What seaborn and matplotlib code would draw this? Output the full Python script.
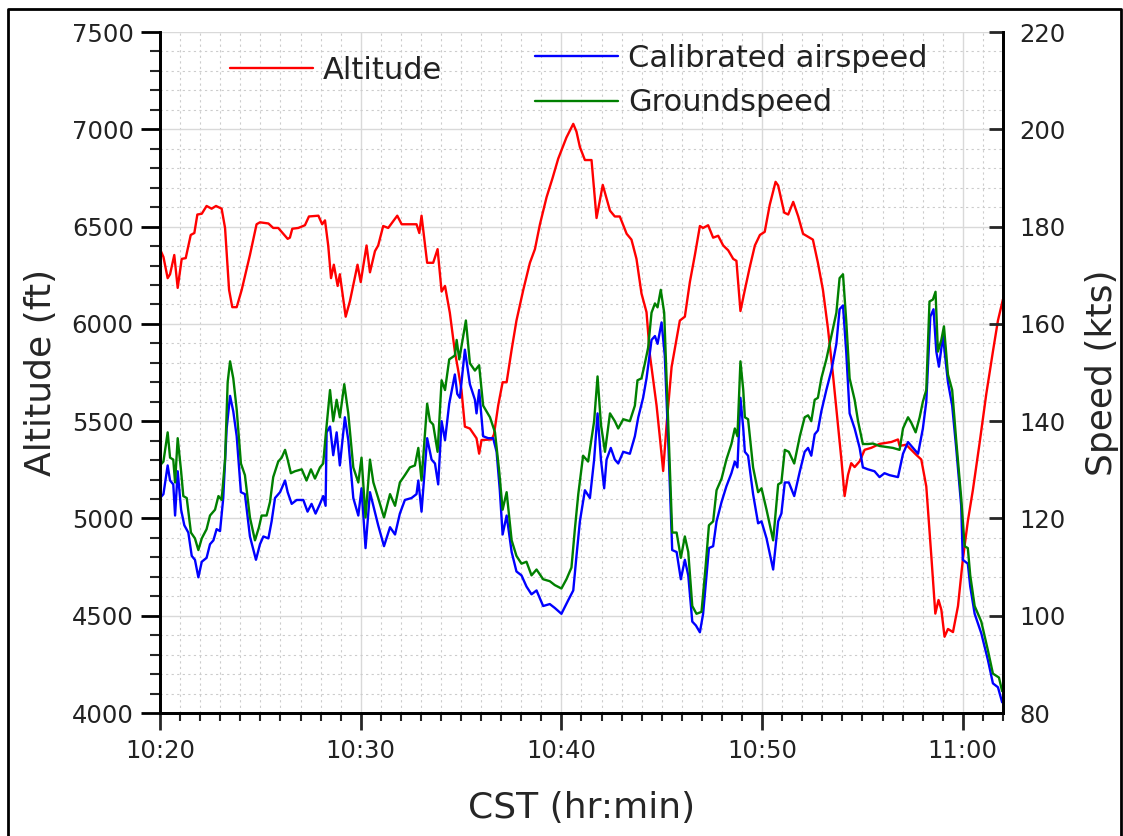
import matplotlib
matplotlib.use("Agg")
import matplotlib.pyplot as plt
import seaborn as sns
from matplotlib.lines import Line2D
from matplotlib.ticker import MultipleLocator, FixedLocator, FixedFormatter

# time in minutes after 10:20 CST
alt_t = [0, 0.17, 0.38, 0.5, 0.71, 0.88, 1.08, 1.28, 1.53, 1.71, 1.86, 2.08, 2.32, 2.57, 2.79,
         3.07, 3.24, 3.44, 3.6, 3.82, 4.07, 4.48, 4.81, 4.98, 5.4, 5.64, 5.89, 6.23, 6.36, 6.47,
         6.59, 6.89, 7.22, 7.42, 7.89, 8.08, 8.22, 8.38, 8.52, 8.66, 8.85, 8.96, 9.25, 9.46, 9.84,
         10.0, 10.29, 10.46, 10.71, 10.87, 11.12, 11.37, 11.82, 12.04, 12.78, 12.92, 13.03, 13.31,
         13.61, 13.83, 14.03, 14.2, 14.44, 14.69, 14.86, 15.02, 15.19, 15.44, 15.77, 15.9, 16.02,
         16.52, 16.64, 16.85, 17.07, 17.27, 17.52, 17.76, 18.1, 18.43, 18.68, 18.93, 19.26, 19.56,
         19.84, 20.25, 20.59, 20.75, 20.92, 21.17, 21.5, 21.75, 22.06, 22.42, 22.66, 22.91, 23.25,
         23.49, 23.74, 23.99, 24.24, 24.41, 24.74, 24.9, 25.07, 25.24, 25.49, 25.9, 26.15, 26.4,
         26.65, 26.9, 27.06, 27.31, 27.56, 27.81, 28.06, 28.31, 28.56, 28.72, 28.92, 29.14, 29.39,
         29.64, 29.89, 30.13, 30.38, 30.67, 30.8, 31.1, 31.3, 31.55, 31.8, 32.04, 32.53, 32.78,
         33.03, 33.28, 33.53, 33.78, 33.95, 34.11, 34.28, 34.44, 34.61, 34.86, 35.11, 35.44, 35.85,
         36.44, 36.77, 36.85, 37.18, 37.68, 37.93, 38.18, 38.43, 38.63, 38.79, 38.93, 39.09, 39.26,
         39.51, 39.76, 40.0, 40.25, 40.5, 40.83, 41.17, 41.5, 41.75, 42.0]
alt_ft = [6384, 6344, 6235, 6255, 6354, 6185, 6334, 6338, 6457, 6467, 6562, 6566, 6606, 6592, 6606,
          6592, 6493, 6175, 6086, 6086, 6175, 6354, 6512, 6522, 6516, 6493, 6493, 6453, 6437, 6443,
          6489, 6493, 6507, 6552, 6556, 6512, 6532, 6403, 6235, 6304, 6195, 6255, 6037, 6116, 6304,
          6215, 6403, 6265, 6374, 6403, 6503, 6493, 6556, 6512, 6512, 6467, 6556, 6314,
          6314, 6384, 6166, 6195, 6057, 5858, 5759, 5660, 5472, 5462, 5412, 5333, 5403,
          5406, 5432, 5581, 5700, 5700, 5868, 6017, 6175, 6314, 6384, 6512, 6651, 6750,
          6849, 6958, 7028, 6988, 6909, 6842, 6842, 6544, 6714, 6582, 6552, 6552, 6463,
          6433, 6334, 6156, 6060, 5839, 5581, 5422, 5244, 5482, 5779, 6017, 6037, 6215,
          6354, 6503, 6493, 6507, 6443, 6453, 6403, 6378, 6334, 6324, 6066, 6175, 6294,
          6403, 6457, 6473, 6612, 6730, 6711, 6572, 6562, 6627, 6552, 6463, 6433, 6314,
          6175, 5977, 5739, 5482, 5303, 5115, 5224, 5284, 5264, 5294, 5353, 5363, 5383,
          5393, 5406, 5373, 5379, 5327, 5303, 5165, 4808, 4511, 4581, 4531, 4392, 4432,
          4416, 4550, 4788, 4986, 5145, 5383, 5640, 5858, 6017, 6126]

cas_t = [0, 0.17, 0.38, 0.5, 0.66, 0.75, 0.88, 1.05, 1.21, 1.41, 1.58, 1.74, 1.91, 2.08, 2.32, 2.49,
         2.66, 2.82, 2.99, 3.15, 3.32, 3.49, 3.65, 3.82, 4.03, 4.23, 4.48, 4.78, 4.98, 5.15, 5.4,
         5.56, 5.73, 5.98, 6.23, 6.36, 6.56, 6.81, 7.14, 7.35, 7.55, 7.75, 7.97, 8.13, 8.25, 8.3,
         8.47, 8.63, 8.8, 8.96, 9.21, 9.38, 9.63, 9.88, 10.04, 10.24, 10.46, 10.63, 10.87, 11.16,
         11.46, 11.71, 11.95, 12.2, 12.53, 12.78, 12.87, 13.03, 13.31, 13.53, 13.7, 13.86, 14.03,
         14.2, 14.41, 14.69, 14.81, 14.94, 15.19, 15.44, 15.69, 15.77, 15.9, 16.1, 16.35, 16.6,
         16.77, 16.93, 17.07, 17.27, 17.52, 17.76, 18.01, 18.26, 18.51, 18.76, 19.09, 19.42, 19.67,
         20.0, 20.34, 20.59, 20.75, 20.92, 21.17, 21.42, 21.63, 21.8, 21.97, 22.13, 22.25, 22.46,
         22.66, 22.83, 23.08, 23.41, 23.66, 23.83, 24.07, 24.24, 24.49, 24.66, 24.79, 24.99, 25.15,
         25.32, 25.52, 25.74, 25.95, 26.15, 26.32, 26.52, 26.7, 26.9, 27.06, 27.18, 27.35, 27.56,
         27.73, 27.98, 28.22, 28.47, 28.64, 28.77, 28.92, 29.06, 29.14, 29.3, 29.55, 29.8, 29.97,
         30.22, 30.55, 30.8, 30.96, 31.13, 31.33, 31.6, 31.88, 32.12, 32.29, 32.45, 32.62, 32.78,
         32.95, 33.2, 33.45, 33.7, 33.86, 34.03, 34.19, 34.36, 34.61, 34.86, 35.02, 35.27, 35.6,
         35.85, 36.1, 36.35, 36.77, 37.02, 37.27, 37.52, 37.77, 38.01, 38.18, 38.38, 38.54, 38.68,
         38.81, 39.01, 39.26, 39.47, 39.67, 39.92, 40.0, 40.25, 40.37, 40.59, 40.92, 41.25, 41.5,
         41.75, 41.96]
cas_kts = [124.2, 125.0, 130.9, 127.8, 127.0, 120.6, 129.7, 121.8, 118.6, 117.1, 112.3, 111.5, 107.9,
           111.1, 111.9, 114.7, 115.5, 117.8, 117.4, 124.2, 138.5, 145.2, 142.0, 136.9, 125.4, 125.0,
           116.3, 111.5, 114.7, 116.3, 115.9, 119.4, 124.2, 125.4, 127.8, 125.4, 123.0, 123.8, 123.8,
           121.4, 123.0, 121.0, 123.0, 124.6, 122.6, 137.7, 138.9, 133.0, 137.7, 130.9, 140.8, 136.1,
           124.2, 120.6, 126.2, 113.9, 125.4, 122.6, 118.6, 114.3, 118.2, 116.7, 121.0, 123.8, 124.2,
           125.0, 127.8, 121.4, 136.5, 132.1, 131.3, 127.0, 140.0, 136.1, 143.6, 149.6, 145.6, 144.8,
           154.7, 147.6, 144.4, 141.6, 146.4, 136.9, 136.5, 136.5, 133.7, 125.8, 116.7, 120.6, 113.1,
           109.1, 108.3, 106.0, 104.4, 105.2, 102.0, 102.4, 101.6, 100.4, 103.2, 105.2, 112.3, 119.4,
           125.8, 124.2, 132.1, 141.6, 132.1, 126.2, 132.1, 134.5, 132.1, 131.3, 133.7, 133.3, 136.9,
           140.8, 144.8, 148.8, 156.7, 157.5, 155.9, 160.3, 153.5, 136.1, 113.5, 113.1, 107.5, 111.5,
           108.3, 98.8, 98.0, 96.6, 100.4, 106.0, 113.9, 114.3, 119.4, 123.4, 126.6, 129.3, 131.7,
           130.5, 144.8, 138.5, 133.7, 132.9, 125.0, 119.0, 119.4, 115.9, 109.5, 119.4, 121.0, 127.4,
           127.4, 124.6, 129.7, 133.7, 134.5, 132.9, 137.3, 138.1, 142.0, 146.4, 150.4, 155.9, 163.0,
           163.8, 154.3, 141.6, 138.5, 134.5, 130.5, 130.1, 129.7, 128.5, 129.3, 128.9, 128.5, 133.3,
           135.7, 134.5, 133.3, 138.5, 144.0, 161.5, 163.0, 154.3, 151.2, 157.5, 148.0, 143.2, 134.5,
           122.6, 111.5, 110.7, 106.0, 100.4, 96.4, 90.9, 86.1, 85.3, 82.2]

gs_t = [0, 0.17, 0.38, 0.5, 0.66, 0.75, 0.88, 1.05, 1.16, 1.33, 1.54, 1.74, 1.91, 2.08, 2.32, 2.49,
        2.74, 2.91, 3.07, 3.24, 3.37, 3.49, 3.65, 3.82, 4.03, 4.23, 4.48, 4.73, 4.93, 5.06, 5.31,
        5.48, 5.64, 5.89, 6.06, 6.23, 6.36, 6.52, 6.72, 7.06, 7.3, 7.52, 7.72, 7.97, 8.13, 8.25,
        8.47, 8.63, 8.8, 8.96, 9.18, 9.38, 9.63, 9.88, 10.04, 10.24, 10.46, 10.63, 10.87, 11.16,
        11.46, 11.71, 11.95, 12.2, 12.45, 12.7, 12.87, 13.03, 13.31, 13.45, 13.61, 13.83, 14.03,
        14.2, 14.41, 14.69, 14.78, 14.91, 15.24, 15.44, 15.69, 15.9, 16.1, 16.44, 16.69, 16.9,
        17.07, 17.27, 17.52, 17.76, 18.01, 18.26, 18.51, 18.76, 19.09, 19.42, 19.67, 20.0, 20.25,
        20.5, 20.67, 20.84, 21.08, 21.33, 21.63, 21.8, 21.97, 22.17, 22.42, 22.66, 22.83, 23.08,
        23.41, 23.66, 23.79, 23.99, 24.16, 24.32, 24.49, 24.66, 24.79, 24.95, 25.12, 25.32, 25.52,
        25.74, 25.95, 26.15, 26.32, 26.52, 26.73, 26.98, 27.18, 27.35, 27.56, 27.73, 27.98, 28.22,
        28.47, 28.64, 28.77, 28.92, 29.06, 29.14, 29.3, 29.55, 29.8, 29.97, 30.22, 30.55, 30.8,
        30.96, 31.13, 31.33, 31.6, 31.88, 32.12, 32.29, 32.45, 32.62, 32.78, 32.95, 33.2, 33.45,
        33.7, 33.86, 34.03, 34.19, 34.36, 34.61, 34.78, 35.02, 35.27, 35.52, 35.85, 36.19, 36.52,
        36.85, 37.02, 37.27, 37.43, 37.65, 37.85, 38.01, 38.18, 38.34, 38.51, 38.64, 38.76, 38.93,
        39.06, 39.26, 39.47, 39.67, 39.92, 40.09, 40.25, 40.37, 40.59, 40.92, 41.25, 41.5, 41.8,
        41.96]
gs_kts = [130.9, 131.7, 137.7, 132.5, 132.1, 127.4, 136.5, 129.7, 124.6, 124.2, 117.1, 115.9, 113.5,
          115.9, 117.8, 120.6, 121.8, 124.6, 123.8, 132.1, 148.0, 152.3, 148.8, 142.4, 131.3, 128.9,
          120.2, 115.5, 118.2, 120.6, 120.6, 123.4, 128.5, 131.7, 132.5, 134.1, 132.1, 129.3, 129.7,
          130.1, 127.8, 130.1, 128.2, 130.5, 131.3, 136.9, 146.4, 140.0, 144.4, 140.8, 147.6, 141.6,
          130.5, 127.4, 132.5, 120.2, 132.1, 127.4, 124.2, 120.2, 125.0, 122.6, 127.4, 128.9, 130.5,
          130.9, 134.5, 127.8, 143.6, 140.0, 139.3, 133.7, 148.4, 146.4, 152.7, 153.5, 156.7, 152.7,
          160.7, 151.9, 150.4, 151.5, 143.2, 140.8, 137.7, 129.7, 121.8, 125.4, 115.5, 112.3, 110.7,
          111.1, 108.3, 109.5, 107.5, 107.1, 106.3, 105.6, 107.5, 109.9, 117.8, 125.0, 132.9, 131.7,
          140.0, 149.2, 139.3, 133.7, 141.6, 140.0, 138.5, 140.4, 140.0, 143.2, 148.4, 148.8, 151.9,
          155.1, 162.3, 164.2, 163.4, 167.0, 162.3, 140.0, 117.1, 117.1, 111.9, 116.3, 113.1, 102.0,
          100.4, 100.8, 109.9, 118.6, 119.4, 125.8, 128.2, 132.1, 135.3, 138.5, 136.9, 152.3, 146.4,
          140.8, 140.4, 130.5, 125.4, 126.2, 121.8, 115.5, 127.0, 127.4, 134.1, 133.7, 131.3, 136.9,
          140.8, 141.2, 140.0, 144.4, 144.8, 148.8, 152.7, 157.5, 162.3, 169.4, 170.2, 160.7, 148.8,
          144.4, 140.0, 135.3, 135.3, 135.4, 134.9, 134.7, 134.5, 134.1, 138.5, 140.8, 139.7, 137.7,
          140.8, 144.0, 146.4, 164.6, 165.0, 166.6, 154.3, 156.7, 159.5, 149.6, 146.4, 136.1, 124.2,
          114.3, 113.9, 108.3, 102.0, 98.8, 92.9, 88.1, 87.3, 84.5]

tick_minutes = [0, 10, 20, 30, 40]
tick_labels = ["10:20", "10:30", "10:40", "10:50", "11:00"]

sns.set_style("white")
plt.rcParams["font.family"] = ["DejaVu Sans"]
plt.rcParams["text.color"] = "#222222"

fig = plt.figure(figsize=(11.23, 8.36), dpi=100)
ax = fig.add_axes([0.1425, 0.1471, 0.7506, 0.8146])
ax2 = ax.twinx()

sns.lineplot(x=alt_t, y=alt_ft, ax=ax, color="#ff0000", linewidth=1.7,
             estimator=None, sort=False, label="Altitude")
sns.lineplot(x=cas_t, y=cas_kts, ax=ax2, color="#0000ff", linewidth=1.7,
             estimator=None, sort=False, label="Calibrated airspeed")
sns.lineplot(x=gs_t, y=gs_kts, ax=ax2, color="#008000", linewidth=1.7,
             estimator=None, sort=False, label="Groundspeed")

ax.set_xlim(0, 42)
ax.set_ylim(4000, 7500)
ax2.set_ylim(80, 220)

ax.xaxis.set_major_locator(FixedLocator(tick_minutes))
ax.xaxis.set_major_formatter(FixedFormatter(tick_labels))
ax.xaxis.set_minor_locator(MultipleLocator(1))
ax.yaxis.set_major_locator(MultipleLocator(500))
ax.yaxis.set_minor_locator(MultipleLocator(100))
ax2.yaxis.set_major_locator(MultipleLocator(20))

# grid
ax.grid(which="major", color="#d9d9d9", linewidth=1, linestyle="-")
ax.grid(which="minor", color="#cccccc", linewidth=0.8, linestyle=(0, (2, 3)))
ax2.grid(False)
ax.set_axisbelow(True)

for a in (ax, ax2):
    a.spines["top"].set_visible(False)
    for s in ("left", "right", "bottom"):
        a.spines[s].set_color("black")
        a.spines[s].set_linewidth(2)

ax.tick_params(axis="y", which="major", direction="out", length=14, width=2,
               labelsize=17.5, pad=5, left=True, colors="black", labelcolor="#222222")
ax.tick_params(axis="y", which="minor", direction="out", length=7, width=1.5, left=True)
ax.tick_params(axis="x", which="major", direction="out", length=12, width=2,
               labelsize=17.5, pad=7, bottom=True, labelcolor="#222222")
ax.tick_params(axis="x", which="minor", direction="out", length=6, width=1.5, bottom=True)
ax2.tick_params(axis="y", which="major", direction="in", length=10, width=2,
                labelsize=17.5, pad=12, right=True, labelcolor="#222222")

ax.set_xlabel("CST (hr:min)", fontsize=26, labelpad=20)
ax.set_ylabel("Altitude (ft)", fontsize=26, labelpad=10)
ax2.set_ylabel("Speed (kts)", fontsize=26, labelpad=14)

leg1 = ax.legend(loc="upper left", bbox_to_anchor=(230 / 1123, 1 - 56 / 836),
                 bbox_transform=fig.transFigure, frameon=False, fontsize=22,
                 handlelength=2.7, handletextpad=0.35, borderpad=0, borderaxespad=0)
leg2 = ax2.legend(loc="upper left", bbox_to_anchor=(535 / 1123, 1 - 44 / 836),
                  bbox_transform=fig.transFigure, frameon=False, fontsize=22,
                  handlelength=2.7, handletextpad=0.35, borderpad=0, borderaxespad=0,
                  labelspacing=0.5)
for leg in (leg1, leg2):
    for h in leg.get_lines():
        h.set_linewidth(1.7)

# frame around the whole picture
fig.add_artist(Line2D([8 / 1123, 8 / 1123, 1121 / 1123, 1121 / 1123],
                      [0, 1 - 9 / 836, 1 - 9 / 836, 0],
                      transform=fig.transFigure, color="black", linewidth=2))

fig.savefig("out.png", dpi=100)
